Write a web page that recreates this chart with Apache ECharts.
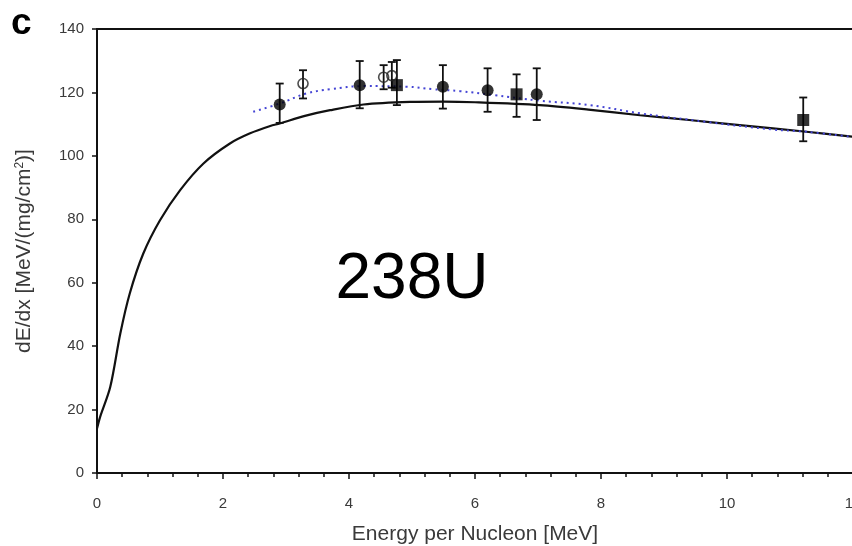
<!DOCTYPE html>
<html>
<head>
<meta charset="utf-8">
<script src="https://cdn.jsdelivr.net/npm/echarts@6/dist/echarts.min.js"></script>
<style>
  html, body { margin: 0; padding: 0; background: #fff; }
  #chart { width: 852px; height: 546px; }
</style>
</head>
<body>
<div id="chart"></div>
<script>
// Stopping power of 238U: calculated curve, fit through data, and measurements
const xTicks = [0, 2, 4, 6, 8, 10, 12];
const yTicks = [0, 20, 40, 60, 80, 100, 120, 140];

// Calculated stopping power (solid black)
const curveE = [0, 0.05, 0.21, 0.37, 0.52, 0.735, 1.0, 1.32, 1.69, 2.11, 2.43, 2.75, 2.9, 3.3, 3.7, 4.23, 4.97, 5.5, 6.0, 7.03, 7.8, 8.62, 9.4, 10.2, 11.26, 12.0];
const curveS = [14, 17.7, 27.1, 44.0, 56.6, 69.2, 79.7, 89.2, 97.6, 103.9, 107.1, 109.4, 110.2, 112.6, 114.4, 116.2, 117.0, 117.1, 116.9, 116.0, 114.6, 112.8, 111.3, 109.7, 107.6, 106.0];

// Fit through the measurements (blue dotted)
const fitE = [2.48, 2.9, 3.33, 3.7, 4.23, 4.92, 5.34, 5.76, 6.29, 7.03, 7.83, 8.62, 9.68, 10.73, 11.26, 12.0];
const fitS = [113.9, 116.5, 119.7, 121.0, 122.0, 121.8, 121.0, 120.4, 119.2, 117.4, 116.0, 113.4, 110.7, 108.3, 107.6, 105.9];

// Measurements: filled circles
const circE = [2.9, 4.17, 5.49, 6.2, 6.98];
const circS = [116.2, 122.3, 121.8, 120.7, 119.4];
const circLo = [110.4, 115.0, 114.9, 113.9, 111.3];
const circHi = [122.8, 129.9, 128.6, 127.6, 127.6];

// Measurements: filled squares
const sqE = [4.76, 6.66, 11.21];
const sqS = [122.3, 119.4, 111.3];
const sqLo = [116.0, 112.3, 104.6];
const sqHi = [130.2, 125.7, 118.4];

// Measurements: open circles
const openE = [3.27, 4.55, 4.68];
const openS = [122.8, 124.8, 125.3];
const openLo = [118.1, 121.0, 121.5];
const openHi = [127.0, 128.6, 129.6];

const zip2 = (a, b) => a.map((v, i) => [v, b[i]]);
const errData = [].concat(
  circE.map((e, i) => [e, circLo[i], circHi[i]]),
  sqE.map((e, i) => [e, sqLo[i], sqHi[i]]),
  openE.map((e, i) => [e, openLo[i], openHi[i]])
);

const labelFont = { fontFamily: 'Liberation Sans, Arial, sans-serif', color: '#3a3a3a' };

const chart = echarts.init(document.getElementById('chart'), null, { renderer: 'canvas' });
chart.setOption({
  animation: false,
  backgroundColor: '#ffffff',
  grid: { left: 97, top: 29, width: 756, height: 444, containLabel: false, outerBoundsMode: 'none' },
  xAxis: [{
    type: 'value', min: 0, max: 12, interval: 2,
    name: 'Energy per Nucleon [MeV]', nameLocation: 'middle', nameGap: 51,
    nameTextStyle: Object.assign({ fontSize: 21 }, labelFont),
    axisLine: { show: true, onZero: false, lineStyle: { color: '#111', width: 2 } },
    axisTick: { show: true, inside: false, length: 6, lineStyle: { color: '#111', width: 1.5 } },
    minorTick: { show: true, splitNumber: 5, length: 4, lineStyle: { color: '#111', width: 1.5 } },
    axisLabel: Object.assign({ fontSize: 15, margin: 23,
      formatter: v => xTicks.includes(v) ? String(v) : '' }, labelFont),
    splitLine: { show: false }
  }, {
    type: 'value', min: 0, max: 12, position: 'top',
    axisLine: { show: true, onZero: false, lineStyle: { color: '#111', width: 2 } },
    axisTick: { show: false }, axisLabel: { show: false }, splitLine: { show: false }
  }],
  yAxis: {
    type: 'value', min: 0, max: 140, interval: 20,
    name: 'dE/dx [MeV/(mg/cm{sup|2})]', nameLocation: 'middle', nameGap: 62, nameRotate: 90,
    nameTextStyle: Object.assign({ fontSize: 21,
      rich: { sup: { fontSize: 12, verticalAlign: 'top', padding: [0, 0, 9, 0], fontFamily: 'Liberation Sans, Arial, sans-serif', color: '#3a3a3a' } } }, labelFont),
    axisLine: { show: true, onZero: false, lineStyle: { color: '#111', width: 2 } },
    axisTick: { show: true, inside: false, length: 5, lineStyle: { color: '#111', width: 1.5 } },
    axisLabel: Object.assign({ fontSize: 15, margin: 13,
      formatter: v => yTicks.includes(v) ? String(v) : '' }, labelFont),
    splitLine: { show: false }
  },
  graphic: [
    { type: 'text', left: 11, top: 5,
      style: { text: 'c', fontSize: 37, fontWeight: 'bold', fontFamily: 'Liberation Sans, Arial, sans-serif', fill: '#000' } },
    { type: 'text', x: 412, y: 280,
      style: { text: '238U', fontSize: 64, fontFamily: 'Liberation Sans, Arial, sans-serif', fill: '#000',
        align: 'center', verticalAlign: 'middle' } }
  ],
  series: [
    {
      name: 'calc', type: 'line', data: zip2(curveE, curveS), smooth: 0.3,
      showSymbol: false, z: 2,
      lineStyle: { color: '#111', width: 2.2 }
    },
    {
      name: 'fit', type: 'line', data: zip2(fitE, fitS), smooth: 0.4,
      showSymbol: false, z: 3,
      lineStyle: { color: '#4444d4', width: 2, type: [2, 4] }
    },
    {
      name: 'errors', type: 'custom', data: errData, z: 4,
      renderItem: function (params, api) {
        const lo = api.coord([api.value(0), api.value(1)]);
        const hi = api.coord([api.value(0), api.value(2)]);
        const c = 4;
        const st = { stroke: '#111', lineWidth: 1.8 };
        return {
          type: 'group',
          children: [
            { type: 'line', shape: { x1: lo[0], y1: lo[1], x2: hi[0], y2: hi[1] }, style: st },
            { type: 'line', shape: { x1: lo[0] - c, y1: lo[1], x2: lo[0] + c, y2: lo[1] }, style: st },
            { type: 'line', shape: { x1: hi[0] - c, y1: hi[1], x2: hi[0] + c, y2: hi[1] }, style: st }
          ]
        };
      }
    },
    {
      name: 'circles', type: 'scatter', data: zip2(circE, circS), z: 5,
      symbol: 'circle', symbolSize: 12, itemStyle: { color: '#000' }
    },
    {
      name: 'squares', type: 'scatter', data: zip2(sqE, sqS), z: 5,
      symbol: 'rect', symbolSize: 12, itemStyle: { color: '#000' }
    },
    {
      name: 'open', type: 'scatter', data: zip2(openE, openS), z: 5,
      symbol: 'circle', symbolSize: 10,
      itemStyle: { color: 'rgba(255,255,255,0)', borderColor: '#222', borderWidth: 1.6 }
    }
  ]
});
</script>
</body>
</html>
